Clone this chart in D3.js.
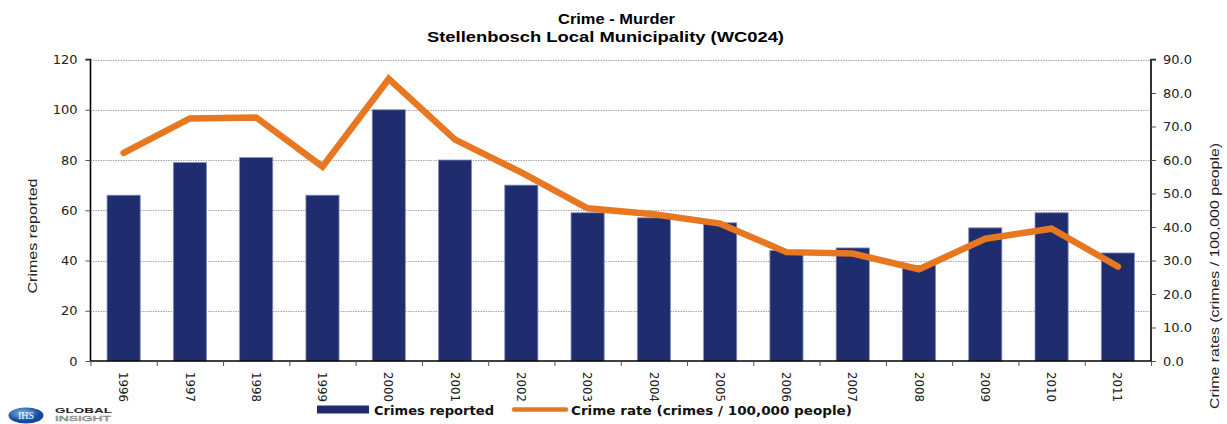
<!DOCTYPE html>
<html>
<head>
<meta charset="utf-8">
<script src="https://cdn.jsdelivr.net/npm/d3@7"></script>
<style>
  body { margin: 0; background: #fff; }
  svg { display: block; }
</style>
</head>
<body>
<svg width="1227" height="424"></svg>
<script>
let width = 1227,
    height = 424;

let years = ["1996", "1997", "1998", "1999", "2000", "2001", "2002", "2003",
             "2004", "2005", "2006", "2007", "2008", "2009", "2010", "2011"];
let crimes = [66, 79, 81, 66, 100, 80, 70, 59, 57, 55, 44, 45, 38, 53, 59, 43];
let rates = [62.1, 72.4, 72.7, 58.0, 84.2, 66.1, 56.3, 45.6, 43.8, 41.0, 32.5, 32.1, 27.4, 36.5, 39.5, 28.2];
let leftTicks = [0, 20, 40, 60, 80, 100, 120];
let rightTicks = [0, 10, 20, 30, 40, 50, 60, 70, 80, 90];

let plotLeft = 90.5, plotRight = 1151, plotTop = 59.5, plotBottom = 361;

let barColor = "#1f2d6e",
    lineColor = "#e87722";

let svg = d3.select("svg");

let x = d3.scaleBand()
    .domain(years)
    .range([plotLeft, plotRight])
    .paddingInner(0.5)
    .paddingOuter(0.25);

let yLeft = d3.scaleLinear().domain([0, 120]).range([plotBottom, plotTop]);
let yRight = d3.scaleLinear().domain([0, 90]).range([plotBottom, plotTop]);

// title
svg.append("text")
    .attr("x", 616.5).attr("y", 24)
    .attr("text-anchor", "middle")
    .attr("font-family", "Liberation Sans, Arial, sans-serif")
    .attr("font-weight", "bold").attr("font-size", 14)
    .attr("textLength", 117).attr("lengthAdjust", "spacingAndGlyphs")
    .text("Crime - Murder");
svg.append("text")
    .attr("x", 605.5).attr("y", 42)
    .attr("text-anchor", "middle")
    .attr("font-family", "Liberation Sans, Arial, sans-serif")
    .attr("font-weight", "bold").attr("font-size", 14)
    .attr("textLength", 357).attr("lengthAdjust", "spacingAndGlyphs")
    .text("Stellenbosch Local Municipality (WC024)");

// gridlines
svg.append("g")
    .selectAll("line")
    .data(leftTicks.slice(1))
    .join("line")
    .attr("x1", plotLeft).attr("x2", plotRight)
    .attr("y1", d => Math.round(yLeft(d)) + 0.5)
    .attr("y2", d => Math.round(yLeft(d)) + 0.5)
    .attr("stroke", "#a8a8a8")
    .attr("stroke-width", 1)
    .attr("stroke-dasharray", "1.5 1");

// bars
svg.append("g")
    .selectAll("rect")
    .data(crimes)
    .join("rect")
    .attr("x", (d, i) => x(years[i]))
    .attr("y", d => yLeft(d))
    .attr("width", x.bandwidth())
    .attr("height", d => plotBottom - yLeft(d))
    .attr("fill", barColor)
    .attr("stroke", "#8890bb")
    .attr("stroke-width", 0.8);

// line
let line = d3.line()
    .x((d, i) => x(years[i]) + x.bandwidth() / 2)
    .y(d => yRight(d));

svg.append("path")
    .datum(rates)
    .attr("d", line)
    .attr("fill", "none")
    .attr("stroke", lineColor)
    .attr("stroke-width", 6.5)
    .attr("stroke-linecap", "round")
    .attr("stroke-linejoin", "miter");

// axes
let fontTick = "DejaVu Sans, Verdana, sans-serif";

let axisL = svg.append("g")
    .attr("transform", `translate(${plotLeft},0)`)
    .call(d3.axisLeft(yLeft).tickValues(leftTicks).tickSize(5).tickPadding(8));
let axisR = svg.append("g")
    .attr("transform", `translate(${plotRight},0)`)
    .call(d3.axisRight(yRight).tickValues(rightTicks).tickSize(5).tickPadding(7)
        .tickFormat(d3.format(".1f")));

let boundary = d3.scaleLinear().domain([0, years.length]).range([plotLeft, plotRight]);
let axisB = svg.append("g")
    .attr("transform", `translate(0,${plotBottom})`)
    .call(d3.axisBottom(boundary).tickValues(d3.range(0, years.length + 1)).tickSize(5).tickFormat(""));

[axisL, axisR, axisB].forEach(a => {
    a.select(".domain").attr("stroke", "#000").attr("stroke-width", 1.6);
    a.selectAll(".tick line").attr("stroke", "#555");
    a.selectAll("text")
        .attr("font-family", fontTick)
        .attr("font-size", 13)
        .attr("fill", "#222");
});
axisL.select(".domain").attr("d", `M-5,${plotTop}H0V${plotBottom}`);
axisR.select(".domain").attr("d", `M5,${plotTop}H0V${plotBottom}`);
axisB.select(".domain").attr("d", `M${plotLeft},0H${plotRight}`);

// year labels, rotated
svg.append("g")
    .selectAll("text")
    .data(years)
    .join("text")
    .attr("transform", d => `translate(${x(d) + x.bandwidth() / 2},372) rotate(90)`)
    .attr("dy", "0.35em")
    .attr("font-family", fontTick)
    .attr("font-size", 12.5)
    .attr("fill", "#222")
    .attr("textLength", 30).attr("lengthAdjust", "spacingAndGlyphs")
    .text(d => d);

// axis titles
svg.append("text")
    .attr("transform", "translate(33,236) rotate(-90)")
    .attr("text-anchor", "middle")
    .attr("dy", "0.35em")
    .attr("font-family", "Liberation Sans, Arial, sans-serif")
    .attr("font-size", 12)
    .attr("fill", "#222")
    .attr("textLength", 115).attr("lengthAdjust", "spacingAndGlyphs")
    .text("Crimes reported");
svg.append("text")
    .attr("transform", "translate(1215,276) rotate(-90)")
    .attr("text-anchor", "middle")
    .attr("dy", "0.35em")
    .attr("font-family", "Liberation Sans, Arial, sans-serif")
    .attr("font-size", 12)
    .attr("fill", "#222")
    .attr("textLength", 266).attr("lengthAdjust", "spacingAndGlyphs")
    .text("Crime rates (crimes / 100,000 people)");

// legend
let legend = svg.append("g");
legend.append("rect")
    .attr("x", 317).attr("y", 405.5)
    .attr("width", 52).attr("height", 8)
    .attr("fill", barColor);
legend.append("text")
    .attr("x", 374).attr("y", 414.5)
    .attr("font-family", fontTick).attr("font-weight", "bold").attr("font-size", 13)
    .attr("fill", "#111")
    .attr("textLength", 120).attr("lengthAdjust", "spacingAndGlyphs")
    .text("Crimes reported");
legend.append("line")
    .attr("x1", 514).attr("x2", 566)
    .attr("y1", 409.5).attr("y2", 409.5)
    .attr("stroke", lineColor).attr("stroke-width", 4.5)
    .attr("stroke-linecap", "round");
legend.append("text")
    .attr("x", 571).attr("y", 414.5)
    .attr("font-family", fontTick).attr("font-weight", "bold").attr("font-size", 13)
    .attr("fill", "#111")
    .attr("textLength", 281).attr("lengthAdjust", "spacingAndGlyphs")
    .text("Crime rate (crimes / 100,000 people)");

// logo
let defs = svg.append("defs");
let grad = defs.append("radialGradient").attr("id", "ihs").attr("cx", "40%").attr("cy", "35%");
grad.append("stop").attr("offset", "0%").attr("stop-color", "#7fb2e6");
grad.append("stop").attr("offset", "100%").attr("stop-color", "#124a9a");
let logo = svg.append("g");
logo.append("ellipse")
    .attr("cx", 26).attr("cy", 415.5).attr("rx", 17.5).attr("ry", 8)
    .attr("fill", "url(#ihs)");
logo.append("text")
    .attr("x", 26).attr("y", 419).attr("text-anchor", "middle")
    .attr("font-family", "Liberation Serif, serif").attr("font-size", 10)
    .attr("fill", "#fff")
    .text("IHS");
logo.append("text")
    .attr("x", 55).attr("y", 413)
    .attr("font-family", "Liberation Sans, Arial, sans-serif").attr("font-weight", "bold")
    .attr("font-size", 7).attr("fill", "#222")
    .attr("textLength", 57).attr("lengthAdjust", "spacingAndGlyphs")
    .text("GLOBAL");
logo.append("text")
    .attr("x", 55).attr("y", 421)
    .attr("font-family", "Liberation Sans, Arial, sans-serif")
    .attr("font-size", 8).attr("fill", "#d8d8d8")
    .attr("stroke", "#888").attr("stroke-width", 0.5)
    .attr("textLength", 56).attr("lengthAdjust", "spacingAndGlyphs")
    .text("INSIGHT");
</script>
</body>
</html>
